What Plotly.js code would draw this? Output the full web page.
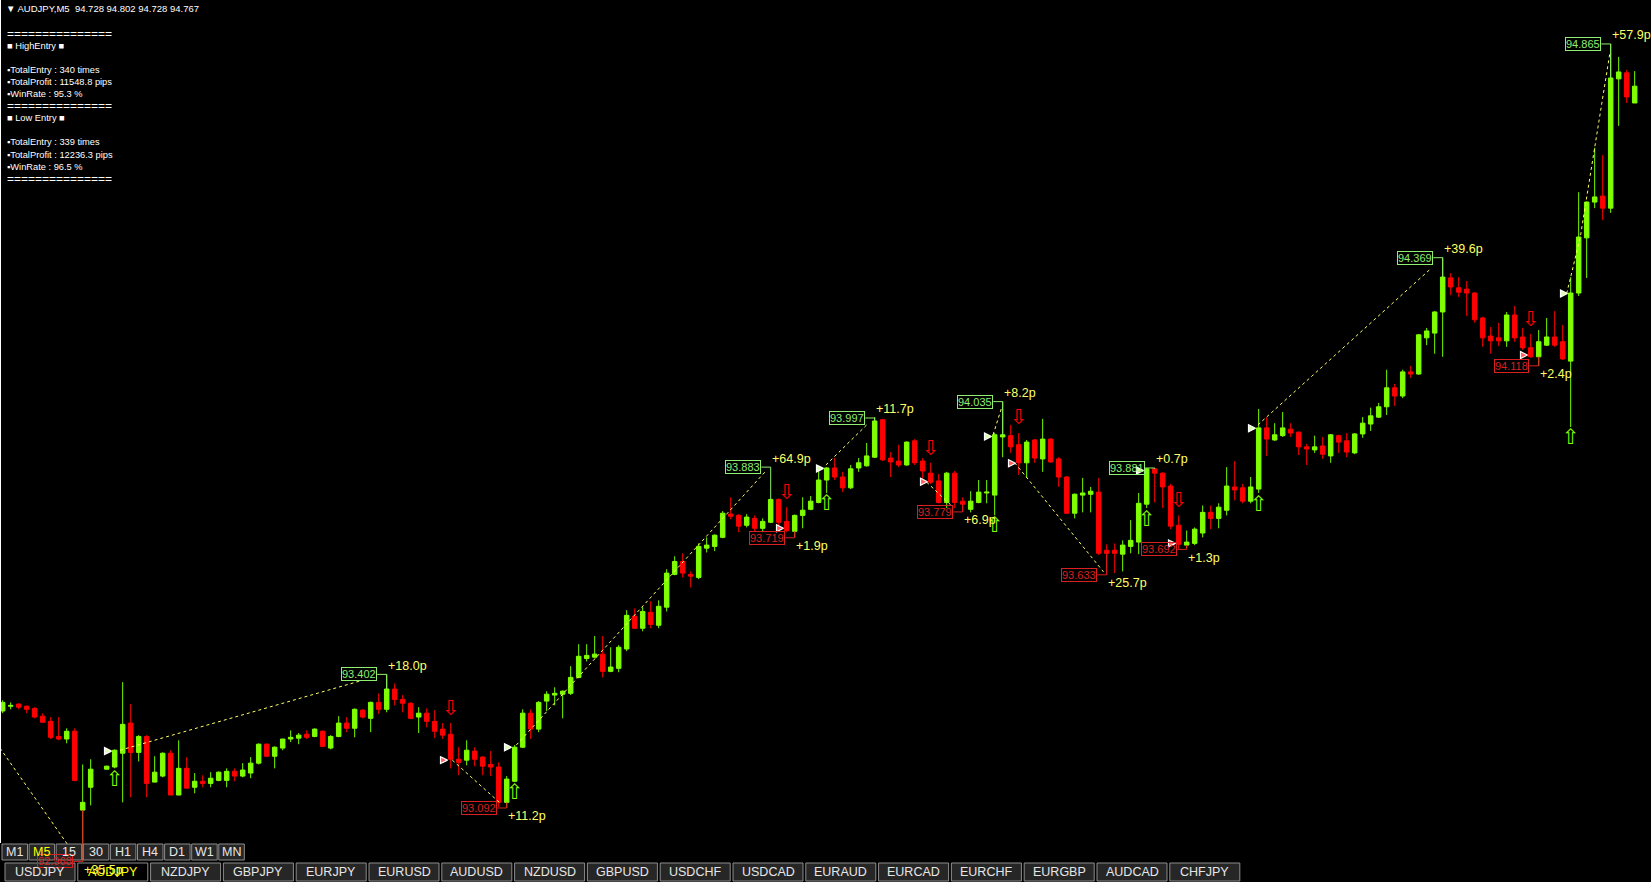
<!DOCTYPE html>
<html><head><meta charset="utf-8">
<script src="https://cdn.plot.ly/plotly-3.0.1.min.js"></script>
<style>html,body{margin:0;padding:0;background:#000;overflow:hidden}#chart{width:1651px;height:882px}</style>
</head><body><div id="chart"></div>
<script>
// ---------------- DATA ----------------
const symbol = 'AUDJPY,M5';
const openP = [93.317,93.328,93.333,93.328,93.323,93.305,93.293,93.258,93.252,93.270,
93.087,93.140,null,93.182,93.187,93.219,93.289,93.221,93.258,93.152,
93.166,93.219,93.122,93.184,93.140,93.154,93.149,93.156,93.156,93.177,
93.166,93.173,93.196,93.240,93.212,93.231,93.252,93.254,93.263,93.258,
93.270,93.231,93.258,93.289,93.277,93.319,93.300,93.337,93.321,93.368,
93.344,93.335,93.303,93.312,93.293,93.275,93.263,93.205,93.203,93.224,
93.210,93.193,93.187,93.105,93.154,93.233,93.312,93.275,93.340,93.354,
93.356,93.358,93.395,93.439,93.442,93.449,93.409,93.416,93.461,93.537,
93.509,93.546,93.516,93.558,93.634,93.664,93.634,93.627,93.695,93.699,
93.720,93.774,93.771,93.748,93.764,93.741,93.755,93.808,93.757,93.734,
93.771,93.785,93.801,93.853,93.881,93.860,93.835,93.881,93.886,93.906,
93.993,93.904,93.897,93.888,93.944,93.897,93.869,93.851,93.801,93.869,
93.804,93.785,93.801,93.823,93.818,93.953,93.956,93.935,93.893,93.946,
93.902,93.948,93.902,93.860,93.776,93.818,93.820,93.825,93.690,93.690,
93.681,93.699,93.709,93.797,93.879,93.869,93.839,93.748,93.702,93.706,
93.730,93.778,93.764,93.783,93.837,93.835,93.804,93.832,93.974,93.946,
93.956,93.971,93.964,93.930,93.923,93.932,93.909,93.956,93.944,93.916,
93.960,93.983,93.999,94.023,94.067,94.048,94.104,94.099,94.183,94.194,
94.243,94.322,94.299,94.296,94.287,94.229,94.187,94.183,94.176,94.236,
94.185,94.160,94.139,94.166,94.185,94.174,94.129,94.287,94.415,94.498,
94.512,94.484,94.784,94.798,94.728];
const highP = [93.342,93.337,93.335,93.330,93.326,93.312,93.303,93.303,93.277,93.277,
93.193,93.205,null,93.190,93.228,93.384,93.333,93.261,93.261,93.212,
93.221,93.226,93.249,93.210,93.173,93.168,93.175,93.177,93.184,93.184,
93.196,93.210,93.242,93.242,93.235,93.252,93.272,93.266,93.272,93.277,
93.272,93.261,93.305,93.303,93.323,93.321,93.339,93.358,93.402,93.381,
93.354,93.337,93.326,93.323,93.319,93.289,93.289,93.233,93.249,93.233,
93.212,93.224,93.198,93.166,93.238,93.321,93.321,93.340,93.363,93.372,
93.365,93.421,93.472,93.472,93.491,93.491,93.465,93.470,93.551,93.555,
93.558,93.572,93.574,93.646,93.676,93.683,93.641,93.706,93.720,93.727,
93.781,93.813,93.774,93.774,93.771,93.764,93.810,93.810,93.790,93.773,
93.813,93.816,93.874,93.883,93.904,93.872,93.888,93.904,93.939,93.999,
93.995,93.918,93.935,93.943,93.948,93.904,93.893,93.867,93.872,93.874,
93.813,93.827,93.853,93.853,93.962,94.035,93.981,93.962,93.946,93.948,
93.995,93.950,93.906,93.862,93.822,93.858,93.837,93.858,93.704,93.706,
93.713,93.760,93.823,93.881,93.881,93.871,93.844,93.771,93.736,93.743,
93.794,93.794,93.799,93.883,93.897,93.844,93.860,94.018,93.999,93.985,
94.011,93.985,93.966,93.937,93.956,93.953,93.960,93.958,93.962,93.962,
93.999,94.021,94.032,94.109,94.076,94.109,94.118,94.192,94.206,94.245,
94.369,94.333,94.324,94.315,94.289,94.232,94.208,94.218,94.243,94.257,
94.206,94.192,94.201,94.229,94.245,94.213,94.324,94.521,94.500,94.624,
94.607,94.865,94.835,94.805,94.802];
const lowP = [93.312,93.321,93.321,93.312,93.300,93.289,93.252,93.249,93.242,93.154,
92.968,93.098,null,93.181,93.184,93.105,93.117,93.200,93.117,93.152,
93.163,93.122,93.122,93.138,93.126,93.140,93.140,93.154,93.140,93.154,
93.163,93.161,93.193,93.210,93.184,93.226,93.245,93.240,93.252,93.256,
93.233,93.228,93.256,93.268,93.256,93.300,93.268,93.310,93.314,93.330,
93.314,93.298,93.266,93.279,93.254,93.252,93.184,93.168,93.191,93.189,
93.168,93.166,93.094,93.092,93.152,93.231,93.252,93.268,93.317,93.330,
93.300,93.354,93.393,93.432,93.439,93.395,93.407,93.407,93.456,93.507,
93.502,93.509,93.509,93.548,93.632,93.627,93.604,93.623,93.685,93.688,
93.718,93.762,93.732,93.743,93.734,93.732,93.753,93.743,93.732,93.720,
93.741,93.783,93.799,93.823,93.853,93.825,93.832,93.872,93.884,93.904,
93.897,93.860,93.883,93.886,93.888,93.851,93.844,93.799,93.788,93.788,
93.779,93.778,93.799,93.799,93.771,93.906,93.916,93.865,93.858,93.893,
93.872,93.893,93.837,93.774,93.764,93.778,93.778,93.679,93.633,93.637,
93.641,93.683,93.681,93.788,93.801,93.788,93.739,93.692,93.695,93.702,
93.720,93.739,93.741,93.771,93.806,93.799,93.799,93.823,93.909,93.944,
93.953,93.953,93.911,93.888,93.916,93.902,93.893,93.916,93.906,93.913,
93.951,93.967,93.997,94.004,94.025,94.043,94.090,94.097,94.166,94.146,
94.139,94.282,94.278,94.234,94.218,94.162,94.146,94.164,94.162,94.174,
94.155,94.137,94.118,94.164,94.162,94.132,93.976,94.280,94.322,94.484,
94.456,94.473,94.675,94.728,94.728];
const closeP = [93.337,93.330,93.326,93.321,93.303,93.291,93.256,93.252,93.270,93.156,
93.105,93.182,null,93.189,93.226,93.286,93.221,93.258,93.149,93.175,
93.219,93.122,93.184,93.138,93.154,93.149,93.161,93.175,93.177,93.166,
93.180,93.196,93.240,93.212,93.233,93.252,93.256,93.261,93.256,93.275,
93.235,93.258,93.289,93.277,93.321,93.303,93.337,93.321,93.368,93.344,
93.335,93.300,93.312,93.293,93.270,93.261,93.205,93.198,93.226,93.205,
93.189,93.187,93.105,93.159,93.233,93.312,93.275,93.337,93.356,93.358,
93.363,93.395,93.444,93.446,93.449,93.409,93.419,93.465,93.539,93.509,
93.548,93.518,93.560,93.637,93.664,93.637,93.630,93.699,93.702,93.725,
93.776,93.769,93.746,93.767,93.741,93.757,93.808,93.755,93.736,93.771,
93.783,93.804,93.853,93.881,93.860,93.835,93.879,93.893,93.909,93.990,
93.900,93.895,93.888,93.941,93.893,93.874,93.848,93.801,93.869,93.801,
93.797,93.804,93.825,93.825,93.958,93.958,93.930,93.893,93.941,93.904,
93.948,93.895,93.860,93.776,93.820,93.823,93.827,93.683,93.683,93.683,
93.702,93.713,93.799,93.879,93.869,93.837,93.746,93.704,93.709,93.739,
93.778,93.764,93.790,93.839,93.830,93.804,93.837,93.974,93.948,93.958,
93.974,93.962,93.930,93.925,93.930,93.913,93.958,93.941,93.918,93.960,
93.985,94.002,94.023,94.067,94.048,94.104,94.099,94.190,94.199,94.243,
94.324,94.301,94.289,94.287,94.225,94.183,94.176,94.176,94.236,94.183,
94.160,94.139,94.174,94.185,94.166,94.134,94.287,94.417,94.498,94.510,
94.484,94.786,94.800,94.742,94.767];

// signals: entry bar, direction, arrow price, entry-marker price
const sigEntryIdx   = [14, 56, 64, 98, 103, 116, 124, 127, 143, 147, 157, 191, 196];
const sigDir        = ['up','down','up','down','up','down','up','down','up','down','up','down','up'];
const sigArrowPrice = [93.156, 93.319, 93.126, 93.822, 93.796, 93.924, 93.744, 93.995, 93.758, 93.802, 93.794, 94.222, 93.948];
const sigEntryPrice = [93.224, 93.203, 93.233, 93.741, 93.880, 93.849, 93.954, 93.892, 93.875, 93.706, 93.973, 94.143, 94.286];

// exit labels
const exitIdx    = [10, 48, 63, 96, 99, 109, 120, 125, 138, 144, 148, 180, 192, 201];
const exitPrice  = [92.968, 93.402, 93.092, 93.883, 93.719, 93.997, 93.779, 94.035, 93.633, 93.881, 93.692, 94.369, 94.118, 94.865];
const exitText   = ['92.968','93.402','93.092','93.883','93.719','93.997','93.779','94.035','93.633','93.881','93.692','94.369','94.118','94.865'];
const exitType   = ['low','high','low','high','low','high','low','high','low','high','low','high','low','high'];
const profitText = ['+35.5p','+18.0p','+11.2p','+64.9p','+1.9p','+11.7p','+6.9p','+8.2p','+25.7p','+0.7p','+1.3p','+39.6p','+2.4p','+57.9p'];

// dotted trade lines (bar index, price), null separates segments
const tradeLineX = [-0.34, 8.16, null, 14.66, 44.9, null, 56.2, 62.2, null, 64.2, 95.3, null,
  102.9, 108.0, null, 115.5, 118.8, null, 123.8, 124.9, null, 126.5, 137.6, null,
  156.9, 178.6, null, 195.5, 197.2, 200.9];
const tradeLineY = [93.231, 93.006, null, 93.226, 93.388, null, 93.203, 93.103, null, 93.238, 93.872, null,
  93.888, 93.981, null, 93.848, 93.790, null, 93.958, 94.023, null, 93.893, 93.640, null,
  93.981, 94.345, null, 94.286, 94.417, 94.844];

const infoLines = ['===============','■ HighEntry ■','','▪TotalEntry : 340 times','▪TotalProfit : 11548.8 pips','▪WinRate : 95.3 %',
  '===============','■ Low Entry ■','','▪TotalEntry : 339 times','▪TotalProfit : 12236.3 pips','▪WinRate : 96.5 %','==============='];
const timeframes = ['M1','M5','15','30','H1','H4','D1','W1','MN'];
const activeTF = 'M5';
const symbols = ['USDJPY','AUDJPY','NZDJPY','GBPJPY','EURJPY','EURUSD','AUDUSD','NZDUSD','GBPUSD','USDCHF','USDCAD','EURAUD','EURCAD','EURCHF','EURGBP','AUDCAD','CHFJPY'];
const activeSym = 'AUDJPY';

// ---------------- STYLE / LAYOUT ----------------
const W = 1651, H = 882;
const BULL = '#80FF00', BEAR = '#FF0000', LBL_G = '#90EE70', LBL_R = '#D82020', YEL = '#FFFF66';
const PXBAR = 8; // pixels per bar
const FONT = 'Liberation Sans, Arial, sans-serif';
const px = x => x / W, py = y => 1 - y / H;

const idx = openP.map((v, i) => i);
const last = openP.length - 1;

const traces = [];
traces.push({
  type: 'candlestick', x: idx, open: openP, high: highP, low: lowP, close: closeP,
  increasing: {line: {color: BULL, width: 1}, fillcolor: BULL},
  decreasing: {line: {color: BEAR, width: 1}, fillcolor: BEAR},
  whiskerwidth: 0, hoverinfo: 'skip'
});
traces.push({type: 'scatter', mode: 'lines', x: tradeLineX, y: tradeLineY, connectgaps: false,
  line: {color: YEL, width: 1, dash: 'dot'}, hoverinfo: 'skip'});

// brackets from label to bar
['high', 'low'].forEach(t => {
  const bx = [], by = [];
  exitIdx.forEach((e, k) => {
    if (exitType[k] !== t) return;
    const edge = t === 'high' ? Math.max(openP[e], closeP[e]) : Math.min(openP[e], closeP[e]);
    bx.push(e - 9.5 / PXBAR, e, e, null);
    by.push(exitPrice[k], exitPrice[k], edge, null);
  });
  traces.push({type: 'scatter', mode: 'lines', x: bx, y: by, line: {color: t === 'high' ? LBL_G : LBL_R, width: 1}, hoverinfo: 'skip'});
});

// arrows
['up', 'down'].forEach(d => {
  const ax = [], ay = [];
  sigEntryIdx.forEach((e, k) => { if (sigDir[k] === d) { ax.push(e); ay.push(sigArrowPrice[k]); } });
  traces.push({type: 'scatter', mode: 'text', x: ax, y: ay, text: ax.map(() => d === 'up' ? '⇧' : '⇩'),
    textfont: {family: 'DejaVu Sans', size: 21, color: d === 'up' ? BULL : BEAR}, hoverinfo: 'skip', cliponaxis: false});
});
// entry markers
['up', 'down'].forEach(d => {
  const mx = [], my = [];
  sigEntryIdx.forEach((e, k) => { if (sigDir[k] === d) { mx.push(e - 0.4); my.push(sigEntryPrice[k]); } });
  traces.push({type: 'scatter', mode: 'markers', x: mx, y: my,
    marker: {symbol: 'arrow-right', size: 7, color: d === 'up' ? '#d8ffb0' : '#ff6060', line: {color: '#ffffff', width: 1.2}}, hoverinfo: 'skip'});
});

const annotations = [];
exitIdx.forEach((e, k) => {
  const hi = exitType[k] === 'high';
  annotations.push({x: e, y: exitPrice[k], xref: 'x', yref: 'y', text: exitText[k], showarrow: false,
    xanchor: 'right', yanchor: 'middle', xshift: -9.5,
    font: {family: FONT, size: 11, color: hi ? LBL_G : LBL_R},
    bordercolor: hi ? LBL_G : LBL_R, borderwidth: 1, borderpad: 0, bgcolor: 'rgba(0,0,0,0)'});
  annotations.push({x: e, y: exitPrice[k], xref: 'x', yref: 'y', text: profitText[k], showarrow: false,
    xanchor: 'left', yanchor: 'middle', xshift: -1, yshift: hi ? 8.5 : -8.5,
    font: {family: FONT, size: 12.5, color: YEL}});
});

// title
annotations.push({xref: 'paper', yref: 'paper', x: px(4), y: py(8), xanchor: 'left', yanchor: 'middle', showarrow: false,
  text: '▼ ' + symbol + '  ' + [openP[last], highP[last], lowP[last], closeP[last]].map(v => v.toFixed(3)).join(' '),
  font: {family: FONT, size: 9.5, color: '#ffffff'}});
// info block
infoLines.forEach((t, k) => {
  if (!t) return;
  const isEq = t.startsWith('=');
  annotations.push({xref: 'paper', yref: 'paper', x: px(5), y: py(33.5 + k * 12.1), xanchor: 'left', yanchor: 'middle', showarrow: false,
    text: t, font: {family: FONT, size: isEq ? 12 : 9.3, color: '#ffffff'}});
});

const shapes = [];
shapes.push({type: 'line', xref: 'paper', yref: 'paper', x0: px(0.5), x1: px(0.5), y0: py(0), y1: py(843), line: {color: '#ffffff', width: 1}, layer: 'above'});
// timeframe buttons
timeframes.forEach((t, k) => {
  const x0 = 2 + k * 27.1, x1 = x0 + 25.5, y0 = 844, y1 = 860;
  shapes.push({type: 'rect', xref: 'paper', yref: 'paper', x0: px(x0), x1: px(x1), y0: py(y0), y1: py(y1),
    fillcolor: '#262626', line: {color: '#8c8c8c', width: 1}, layer: 'above'});
  annotations.push({xref: 'paper', yref: 'paper', x: px((x0 + x1) / 2), y: py((y0 + y1) / 2), xanchor: 'center', yanchor: 'middle', showarrow: false,
    text: t, font: {family: FONT, size: 12.5, color: t === activeTF ? '#FFFF00' : '#e6e6e6'}});
});
// symbol tabs
symbols.forEach((s, k) => {
  const x0 = 5 + k * 72.8, x1 = x0 + 70, y0 = 863, y1 = 881;
  shapes.push({type: 'rect', xref: 'paper', yref: 'paper', x0: px(x0), x1: px(x1), y0: py(y0), y1: py(y1),
    fillcolor: s === activeSym ? '#000000' : '#262626', line: {color: '#8c8c8c', width: 1}, layer: 'above'});
  annotations.push({xref: 'paper', yref: 'paper', x: px((x0 + x1) / 2), y: py((y0 + y1) / 2), xanchor: 'center', yanchor: 'middle', showarrow: false,
    text: s, font: {family: FONT, size: 12.5, color: s === activeSym ? '#FFFF00' : '#e6e6e6'}});
});

const layout = {
  width: W, height: H, margin: {l: 0, r: 0, t: 0, b: 0, pad: 0},
  paper_bgcolor: '#000', plot_bgcolor: '#000', showlegend: false, dragmode: false,
  boxgap: 0.25, boxgroupgap: 0.25,
  xaxis: {range: [-2.7 / PXBAR, (W - 2.7) / PXBAR], visible: false, showgrid: false, zeroline: false, rangeslider: {visible: false}, fixedrange: true},
  yaxis: {range: [92.9202, 94.9670], visible: false, showgrid: false, zeroline: false, fixedrange: true},
  annotations: annotations, shapes: shapes
};
Plotly.newPlot('chart', traces, layout, {displayModeBar: false, staticPlot: true});
</script></body></html>
